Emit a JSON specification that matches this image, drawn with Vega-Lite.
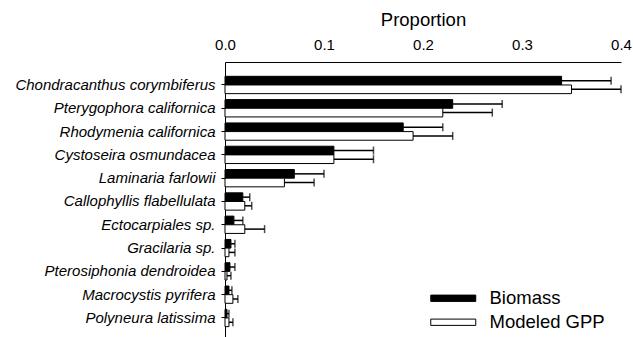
{
  "$schema": "https://vega.github.io/schema/vega-lite/v6.json",
  "width": 396,
  "height": 275,
  "autosize": {"type": "none"},
  "padding": {"left": 225, "top": 62, "right": 12, "bottom": 0},
  "config": {
    "font": "Liberation Sans",
    "view": {"stroke": null},
    "axis": {"labelColor": "black", "titleColor": "black", "domainColor": "black", "tickColor": "black", "grid": false}
  },
  "data": {
    "values": [
      {"species": "Chondracanthus corymbiferus", "series": "Biomass", "value": 0.340, "upper": 0.390},
      {"species": "Chondracanthus corymbiferus", "series": "Modeled GPP", "value": 0.350, "upper": 0.400},
      {"species": "Pterygophora californica", "series": "Biomass", "value": 0.230, "upper": 0.280},
      {"species": "Pterygophora californica", "series": "Modeled GPP", "value": 0.220, "upper": 0.270},
      {"species": "Rhodymenia californica", "series": "Biomass", "value": 0.180, "upper": 0.220},
      {"species": "Rhodymenia californica", "series": "Modeled GPP", "value": 0.190, "upper": 0.230},
      {"species": "Cystoseira osmundacea", "series": "Biomass", "value": 0.110, "upper": 0.150},
      {"species": "Cystoseira osmundacea", "series": "Modeled GPP", "value": 0.110, "upper": 0.150},
      {"species": "Laminaria farlowii", "series": "Biomass", "value": 0.070, "upper": 0.100},
      {"species": "Laminaria farlowii", "series": "Modeled GPP", "value": 0.060, "upper": 0.090},
      {"species": "Callophyllis flabellulata", "series": "Biomass", "value": 0.018, "upper": 0.025},
      {"species": "Callophyllis flabellulata", "series": "Modeled GPP", "value": 0.020, "upper": 0.027},
      {"species": "Ectocarpiales sp.", "series": "Biomass", "value": 0.009, "upper": 0.018},
      {"species": "Ectocarpiales sp.", "series": "Modeled GPP", "value": 0.020, "upper": 0.040},
      {"species": "Gracilaria sp.", "series": "Biomass", "value": 0.006, "upper": 0.010},
      {"species": "Gracilaria sp.", "series": "Modeled GPP", "value": 0.004, "upper": 0.010},
      {"species": "Pterosiphonia dendroidea", "series": "Biomass", "value": 0.005, "upper": 0.010},
      {"species": "Pterosiphonia dendroidea", "series": "Modeled GPP", "value": 0.002, "upper": 0.006},
      {"species": "Macrocystis pyrifera", "series": "Biomass", "value": 0.004, "upper": 0.007},
      {"species": "Macrocystis pyrifera", "series": "Modeled GPP", "value": 0.008, "upper": 0.013},
      {"species": "Polyneura latissima", "series": "Biomass", "value": 0.002, "upper": 0.004},
      {"species": "Polyneura latissima", "series": "Modeled GPP", "value": 0.004, "upper": 0.008}
    ]
  },
  "encoding": {
    "y": {
      "field": "species", "type": "nominal", "sort": null,
      "scale": {"paddingInner": 0.257, "paddingOuter": 0.53, "align": 0.58},
      "axis": {"title": null, "labelFontSize": 15, "labelFontStyle": "italic", "labelLimit": 0, "tickSize": 4, "labelPadding": 6, "domainWidth": 1, "tickWidth": 1}
    },
    "yOffset": {
      "field": "series", "type": "nominal",
      "scale": {"domain": ["Biomass", "Modeled GPP"], "paddingInner": 0, "paddingOuter": 0}
    }
  },
  "layer": [
    {
      "mark": {"type": "bar", "stroke": "black", "strokeWidth": 1},
      "encoding": {
        "x": {
          "field": "value", "type": "quantitative",
          "scale": {"domain": [0, 0.4], "nice": false},
          "axis": {"orient": "top", "values": [0, 0.1, 0.2, 0.3, 0.4], "format": ".1f", "ticks": false, "labelFontSize": 15, "labelPadding": 10, "labelFlush": false, "title": "Proportion", "titleFontSize": 18.5, "titleFontWeight": "normal", "titlePadding": 8, "domainWidth": 1}
        },
        "fill": {
          "field": "series", "type": "nominal",
          "scale": {"domain": ["Biomass", "Modeled GPP"], "range": ["black", "white"]},
          "legend": {
            "title": null, "orient": "none", "legendX": 219, "legendY": 227, "padding": 0,
            "symbolType": "M-5,-0.7L5,-0.7L5,0.7L-5,0.7Z", "symbolSize": 81,
            "symbolStrokeColor": "black", "symbolStrokeWidth": 1,
            "labelFontSize": 18.5, "labelColor": "black", "labelOffset": 27, "rowPadding": 5
          }
        }
      }
    },
    {
      "mark": {"type": "rule", "color": "black", "strokeWidth": 1.5},
      "encoding": {
        "x": {"field": "value", "type": "quantitative"},
        "x2": {"field": "upper"}
      }
    },
    {
      "mark": {"type": "tick", "color": "black", "thickness": 1.5, "size": 8},
      "encoding": {
        "x": {"field": "upper", "type": "quantitative"}
      }
    }
  ]
}
